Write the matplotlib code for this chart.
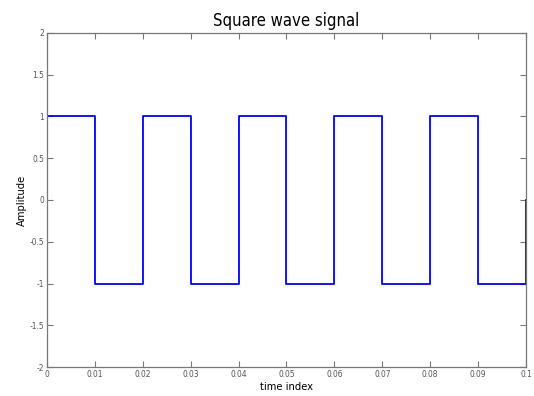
import matplotlib
matplotlib.use("Agg")
import matplotlib.pyplot as plt

# square wave vertices (time, amplitude)
time_pts = [0, 0.01, 0.01, 0.02, 0.02, 0.02, 0.03, 0.03, 0.04, 0.04, 0.04,
            0.05, 0.05, 0.06, 0.06, 0.06, 0.07, 0.07, 0.08, 0.08, 0.08,
            0.09, 0.09, 0.1, 0.1]
amp_pts = [1, 1, -1, -1, 0, 1, 1, -1, -1, 0, 1,
           1, -1, -1, 0, 1, 1, -1, -1, 0, 1,
           1, -1, -1, 0]
x_ticks = [0, 0.01, 0.02, 0.03, 0.04, 0.05, 0.06, 0.07, 0.08, 0.09, 0.1]
x_labels = ["0", "0.01", "0.02", "0.03", "0.04", "0.05", "0.06", "0.07", "0.08", "0.09", "0.1"]
y_ticks = [-2, -1.5, -1, -0.5, 0, 0.5, 1, 1.5, 2]
y_labels = ["-2", "-1.5", "-1", "-0.5", "0", "0.5", "1", "1.5", "2"]

narrow = dict(family=["Liberation Sans Narrow", "DejaVu Sans"], stretch="condensed")

fig = plt.figure(figsize=(5.34, 3.96), dpi=100)
ax = fig.add_axes([0.088, 0.073, 0.897, 0.844])

ax.plot(time_pts, amp_pts, color="#0000ff", linewidth=1.3)

ax.set_xlim(0, 0.1)
ax.set_ylim(-2, 2)
ax.set_xticks(x_ticks)
ax.set_xticklabels(x_labels, fontsize=6, color="#555555", **narrow)
ax.set_yticks(y_ticks)
ax.set_yticklabels(y_labels, fontsize=6, color="#555555", **narrow)
ax.tick_params(direction="in", length=4, width=0.8, color="#777777",
               top=True, right=True, pad=2)
for s in ax.spines.values():
    s.set_color("#777777")
    s.set_linewidth(0.9)

ax.set_title("Square wave signal", fontsize=12, pad=5, **narrow)
ax.set_xlabel("time index", fontsize=8, labelpad=2, **narrow)
ax.set_ylabel("Amplitude", fontsize=8, labelpad=2, **narrow)

fig.savefig("out.png", dpi=100)
